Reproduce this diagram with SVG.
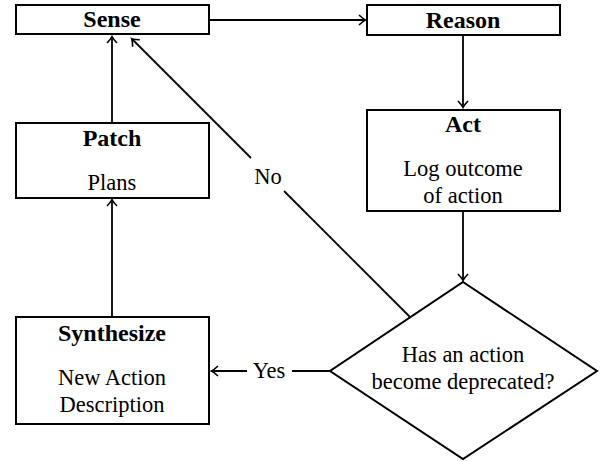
<svg xmlns="http://www.w3.org/2000/svg" width="602" height="461" viewBox="0 0 602 461">
<style>
.box{fill:#fff;stroke:#000;stroke-width:2}
.ln{fill:none;stroke:#000;stroke-width:1.8}
text{font-family:'Liberation Serif','DejaVu Serif',serif;font-size:22.5px;fill:#000;text-anchor:middle}
.b{font-weight:bold;font-size:24px}
</style>
<defs>
<marker id="arr" markerUnits="userSpaceOnUse" markerWidth="14" markerHeight="14" viewBox="-8 -7 10 14" refX="0" refY="0" orient="auto">
<path d="M-6,-5 Q-2,-1.2 0.5,0 Q-2,1.2 -6,5" fill="none" stroke="#000" stroke-width="1.6"/>
</marker>
</defs>
<g id="connectors">
<line class="ln" x1="209" y1="20" x2="365" y2="20" marker-end="url(#arr)"/>
<line class="ln" x1="463" y1="35" x2="463" y2="107" marker-end="url(#arr)"/>
<line class="ln" x1="112" y1="123" x2="112" y2="37" marker-end="url(#arr)"/>
<line class="ln" x1="112" y1="317" x2="112" y2="200" marker-end="url(#arr)"/>
<line class="ln" x1="463" y1="211" x2="463" y2="280" marker-end="url(#arr)"/>
<line class="ln" x1="330" y1="371" x2="292" y2="371"/>
<line class="ln" x1="247" y1="371" x2="212" y2="371" marker-end="url(#arr)"/>
<text x="269" y="378">Yes</text>
<line class="ln" x1="410" y1="317" x2="284" y2="191"/>
<line class="ln" x1="251" y1="158" x2="132" y2="39" marker-end="url(#arr)"/>
<text x="268" y="184">No</text>
</g>
<g id="sense">
<rect class="box" x="16" y="5" width="193" height="29"/>
<text class="b" x="112" y="27">Sense</text>
</g>
<g id="reason">
<rect class="box" x="367" y="5" width="193" height="30"/>
<text class="b" x="463" y="28">Reason</text>
</g>
<g id="act">
<rect class="box" x="367" y="110" width="193" height="101"/>
<text class="b" x="463" y="132">Act</text>
<text x="463" y="176">Log outcome</text>
<text x="463" y="203">of action</text>
</g>
<g id="patch">
<rect class="box" x="16" y="123" width="193" height="75"/>
<text class="b" x="112" y="146">Patch</text>
<text x="112" y="190">Plans</text>
</g>
<g id="synthesize">
<rect class="box" x="16" y="317" width="193" height="107"/>
<text class="b" x="112" y="341">Synthesize</text>
<text x="112" y="385">New Action</text>
<text x="112" y="412">Description</text>
</g>
<g id="decision">
<polygon class="box" points="463,282 597,371 463,459 330,371"/>
<text x="463" y="362">Has an action</text>
<text x="463" y="389">become deprecated?</text>
</g>
</svg>
